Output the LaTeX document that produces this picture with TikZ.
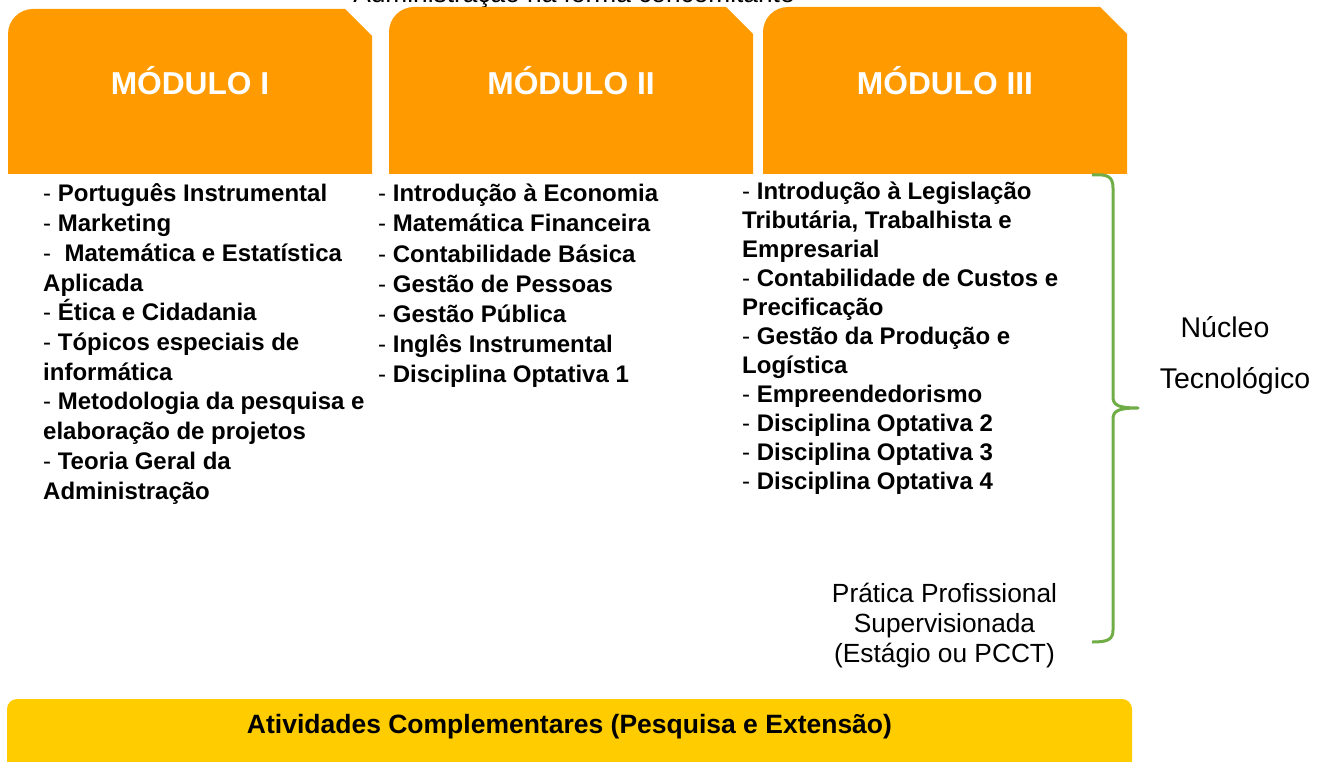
\documentclass[tikz,border=0pt]{standalone}
\usepackage{fontspec}
\setmainfont{Liberation Sans}

\definecolor{modorange}{RGB}{255,155,0}
\definecolor{ativyellow}{RGB}{255,204,0}
\definecolor{bracegreen}{RGB}{112,173,71}

\tikzset{
  modtitle/.style={anchor=base, inner sep=0pt, text=white,
    font=\fontsize{31.7}{36}\selectfont\bfseries},
  item/.style={anchor=base west, inner sep=0pt, font=\fontsize{24}{29}\selectfont},
  note/.style={anchor=base, inner sep=0pt, font=\fontsize{26.3}{30}\selectfont},
}

\begin{document}
\begin{tikzpicture}[x=1pt, y=-1pt]
\useasboundingbox (0,0) rectangle (1317,762);

% title, cut at the top
\node[note] (titulo) at (574,3) {Administração na forma concomitante};

% module boxes
\foreach \xa/\xb/\yt/\lab in {8/372/9/I, 389/753/7/II, 763/1127/7/III}{
  \fill[modorange] (\xa,174) -- (\xa,\yt+25)
    arc[start angle=180, end angle=270, radius=25] -- (\xb-27,\yt)
    -- (\xb,\yt+27) -- (\xb,174) -- cycle;
  \node[modtitle] (mod\lab) at ({(\xa+\xb)/2},95) {MÓDULO \lab};
}

% disciplines
\foreach \t [count=\i] in {
  {- \textbf{Português Instrumental}},
  {- \textbf{Marketing}},
  {-\ \ \textbf{Matemática e Estatística}},
  {\textbf{Aplicada}},
  {- \textbf{Ética e Cidadania}},
  {- \textbf{Tópicos especiais de}},
  {\textbf{informática}},
  {- \textbf{Metodologia da pesquisa e}},
  {\textbf{elaboração de projetos}},
  {- \textbf{Teoria Geral da}},
  {\textbf{Administração}}}
  \node[item] (mi-\i) at (43,{202+29.7*(\i-1)}) {\t};

\foreach \t [count=\i] in {
  {- \textbf{Introdução à Economia}},
  {- \textbf{Matemática Financeira}},
  {- \textbf{Contabilidade Básica}},
  {- \textbf{Gestão de Pessoas}},
  {- \textbf{Gestão Pública}},
  {- \textbf{Inglês Instrumental}},
  {- \textbf{Disciplina Optativa 1}}}
  \node[item] (mii-\i) at (378,{202+30*(\i-1)}) {\t};

\foreach \t [count=\i] in {
  {- \textbf{Introdução à Legislação}},
  {\textbf{Tributária, Trabalhista e}},
  {\textbf{Empresarial}},
  {- \textbf{Contabilidade de Custos e}},
  {\textbf{Precificação}},
  {- \textbf{Gestão da Produção e}},
  {\textbf{Logística}},
  {- \textbf{Empreendedorismo}},
  {- \textbf{Disciplina Optativa 2}},
  {- \textbf{Disciplina Optativa 3}},
  {- \textbf{Disciplina Optativa 4}}}
  \node[item] (miii-\i) at (742,{200+28.9*(\i-1)}) {\t};

% practice
\foreach \t [count=\i] in {Prática Profissional, Supervisionada, (Estágio ou PCCT)}
  \node[note] (pratica-\i) at (944.5,{602+30*(\i-1)}) {\t};

% brace and core label
\draw[bracegreen, line width=3pt, line join=round]
  (1092,175) .. controls (1107,174) and (1113,176) .. (1113,188)
  -- (1113,397) .. controls (1113,405) and (1118,408) .. (1138,408)
  .. controls (1118,408) and (1113,411) .. (1113,419)
  -- (1113,630) .. controls (1113,640) and (1107,642) .. (1092,642);
\node[note, font=\fontsize{28.5}{32}\selectfont] (nucleo) at (1225,337) {Núcleo};
\node[note, font=\fontsize{28.5}{32}\selectfont] (tecno) at (1235,388) {Tecnológico};

% complementary activities
\fill[ativyellow, rounded corners=10pt] (7,699) rectangle (1132,790);
\node[note, font=\fontsize{26.5}{30}\selectfont\bfseries] (ativ) at (569.5,733)
  {Atividades Complementares (Pesquisa e Extensão)};
\end{tikzpicture}
\end{document}
